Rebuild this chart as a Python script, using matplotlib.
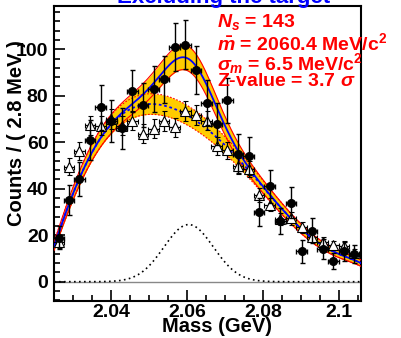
import numpy as np
import matplotlib
matplotlib.use('Agg')
import matplotlib.pyplot as plt
from matplotlib.ticker import MultipleLocator, FuncFormatter

plt.rcParams['font.family'] = ['Liberation Sans', 'DejaVu Sans']
plt.rcParams['font.weight'] = 'bold'
plt.rcParams['mathtext.fontset'] = 'custom'
plt.rcParams['mathtext.it'] = 'Liberation Sans:italic'
plt.rcParams['mathtext.rm'] = 'Liberation Sans:bold'
plt.rcParams['mathtext.bf'] = 'Liberation Sans:bold'

# bin centres (GeV)
mass = [2.0262, 2.0289, 2.0317, 2.0345, 2.0373, 2.0401, 2.0428, 2.0456, 2.0484, 2.0512,
        2.0539, 2.0567, 2.0595, 2.0623, 2.0651, 2.0678, 2.0706, 2.0734, 2.0762, 2.0789,
        2.0817, 2.0845, 2.0873, 2.0901, 2.0928, 2.0956, 2.0984, 2.1012, 2.1039]
half_bin = 0.0014

# signal-region data (filled circles)
counts = [19, 35, 44, 61, 75, 69, 66, 82, 76, 83, 87, 101, 102, 91, 77, 68, 78, 55, 54, 30,
          41, 26, 34, 13, 22, 14, 9, 13, 12]
counts_err = [4.8, 6.5, 7.3, 8.6, 9.6, 9.1, 8.9, 9.0, 9.6, 9.8, 10.3, 10.4, 10.5, 10.4, 9.6,
              9.0, 9.8, 8.4, 8.1, 5.9, 7.0, 5.6, 6.6, 5.0, 5.2, 4.3, 3.4, 4.0, 3.8]

# open triangles
tri = [17, 49.5, 56.2, 67.2, 67.0, 70, 67, 69.3, 63.7, 65.9, 69.2, 66.5, 73.6, 71.7, 69.3,
       58.5, 56.5, 49.7, 48.6, 37.4, 33.2, 27.0, 27.2, 23.4, 19.4, 17.0, 15.6, 15.3, 12.2]
tri_err = [2.5, 3.6, 3.8, 4.1, 4.1, 4.2, 4.1, 4.2, 4.0, 4.1, 4.2, 4.1, 4.3, 4.2, 4.2,
           3.8, 3.8, 3.5, 3.5, 3.1, 2.9, 2.6, 2.6, 2.4, 2.2, 2.1, 2.0, 2.0, 1.8]

# background shape
bkg_x = [2.0250, 2.0290, 2.0320, 2.0345, 2.0372, 2.0400, 2.0432, 2.0459, 2.0487, 2.0520,
         2.0555, 2.0604, 2.0660, 2.0712, 2.0765, 2.0818, 2.0870, 2.0923, 2.0983, 2.1055]
bkg_y = [15.5, 33.0, 45.0, 54.5, 63.0, 68.5, 71.7, 73.9, 75.5, 76.2,
         75.5, 72.5, 64.5, 56.0, 47.0, 37.3, 28.0, 19.4, 12.9, 8.2]

# signal parameters
n_sig = 143
m_sig = 2.0604
s_sig = 0.0065
bw = 0.0028

xlo, xhi = 2.025, 2.1057
xs = np.linspace(xlo, xhi, 500)
bkg_poly = np.polynomial.Polynomial.fit(bkg_x, bkg_y, 7)
bkg = bkg_poly(xs)
sig = n_sig * bw / (np.sqrt(2 * np.pi) * s_sig) * np.exp(-0.5 * ((xs - m_sig) / s_sig) ** 2)
tot = bkg + sig
w_tot = 0.045 * tot + 1.0
w_bkg = 0.045 * bkg + 1.0

fig = plt.figure(figsize=(4.02, 3.38), dpi=100)
ax = fig.add_axes([54 / 402, 37 / 338, 307 / 402, 295 / 338])

yellow = '#FFCC00'
ax.axhline(0, color='#888888', lw=1.0, zorder=1)
ax.fill_between(xs, tot - w_tot, tot + w_tot, color=yellow, lw=0, zorder=2)
ax.fill_between(xs, bkg - w_bkg, bkg + w_bkg, color=yellow, lw=0, zorder=2)
ax.plot(xs, tot + w_tot, color='red', lw=0.8, zorder=3)
ax.plot(xs, tot - w_tot, color='red', lw=0.8, zorder=3)
ax.plot(xs, bkg + w_bkg, color='red', lw=0.8, ls=(0, (1.5, 1.5)), zorder=3)
ax.plot(xs, bkg - w_bkg, color='red', lw=0.8, ls=(0, (1.5, 1.5)), zorder=3)
ax.plot(xs, tot, color='blue', lw=1.3, zorder=4)
ax.plot(xs, bkg, color='blue', lw=1.3, ls=(0, (1.5, 1.5)), zorder=4)
ax.plot(xs, sig, color='black', lw=1.2, ls=(0, (1, 2)), zorder=4)

ax.errorbar(mass, tri, yerr=tri_err, xerr=half_bin, fmt='^', ms=6.5, mfc='white', mec='black',
            mew=0.8, ecolor='black', elinewidth=0.9, capsize=1.8, capthick=0.9, zorder=5)
ax.errorbar(mass, counts, yerr=counts_err, xerr=half_bin, fmt='o', ms=5.5, color='black',
            ecolor='black', elinewidth=1.0, capsize=1.8, capthick=1.0, zorder=6)

ax.set_xlim(xlo, xhi)
ax.set_ylim(-8.3, 118.6)
ax.xaxis.set_major_locator(MultipleLocator(0.02))
ax.xaxis.set_minor_locator(MultipleLocator(0.005))
ax.yaxis.set_major_locator(MultipleLocator(20))
ax.yaxis.set_minor_locator(MultipleLocator(4))
ax.xaxis.set_major_formatter(FuncFormatter(lambda v, p: '%g' % round(v, 3)))
ax.tick_params(which='both', direction='in', top=False, right=False, width=1.2,
               labelsize=14)
ax.tick_params(axis='x', pad=2)
ax.tick_params(axis='y', pad=4)
ax.tick_params(which='major', length=8)
ax.tick_params(which='minor', length=4)
for lab in ax.get_xticklabels() + ax.get_yticklabels():
    lab.set_fontweight('bold')
for sp in ax.spines.values():
    sp.set_linewidth(1.5)

fig.text(17 / 402, 1 - 40 / 338, 'Counts / ( 2.8 MeV )', rotation=90, ha='center', va='top',
         fontsize=14.5, fontweight='bold')
fig.text(272 / 402, 1 - 332 / 338, 'Mass (GeV)', ha='right', va='baseline',
         fontsize=14.5, fontweight='bold')
fig.text(224 / 402, 1 - 2.5 / 338, 'Excluding the target', ha='center', va='baseline',
         fontsize=16, fontweight='bold', color='blue')

red_lines = [(26.7, r'$N_s$ = 143'),
             (50.0, r'$\bar{m}$ = 2060.4 MeV/c$^2$'),
             (70.5, r'$\sigma_m$ = 6.5 MeV/c$^2$'),
             (86.0, r'Z-value = 3.7 $\sigma$')]
for yy, txt in red_lines:
    fig.text(217 / 402, 1 - yy / 338, txt, ha='left', va='baseline', fontsize=14,
             fontweight='bold', color='red')

plt.savefig('out.png', dpi=100)
